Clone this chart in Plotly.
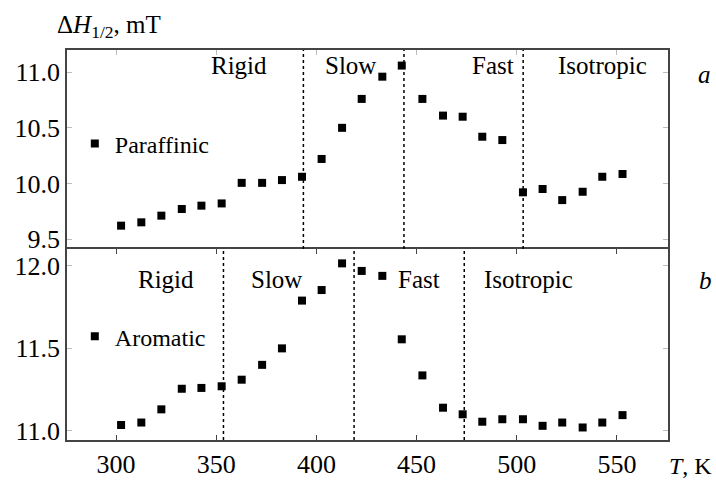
import plotly.graph_objects as go
from plotly.subplots import make_subplots

# ---- data ----
temps = [302.5, 312.6, 322.6, 332.8, 342.6, 352.7, 362.7, 372.9, 382.8, 392.8,
         402.6, 412.8, 422.6, 432.9, 442.6, 452.9, 463.2, 473.0, 482.8, 492.8,
         503.1, 512.9, 522.7, 532.9, 542.7, 552.8]
paraffinic = [9.62, 9.65, 9.71, 9.77, 9.80, 9.82, 10.005, 10.005, 10.03, 10.06,
              10.22, 10.50, 10.76, 10.96, 11.06, 10.76, 10.61, 10.60, 10.42, 10.39,
              9.92, 9.95, 9.85, 9.925, 10.06, 10.085]
aromatic = [11.035, 11.05, 11.13, 11.255, 11.26, 11.27, 11.31, 11.40, 11.50, 11.79,
            11.854, 12.016, 11.97, 11.94, 11.555, 11.336, 11.14, 11.10, 11.055, 11.07,
            11.07, 11.03, 11.05, 11.02, 11.05, 11.095]
top_boundaries = [393.5, 443.7, 503.2]
bottom_boundaries = [353.6, 418.8, 473.8]
regimes = ["Rigid", "Slow", "Fast", "Isotropic"]
top_regime_x = [361.4, 416.8, 488.1, 543.0]
bottom_regime_x = [324.9, 380.0, 451.4, 506.0]
x_ticks = [300, 350, 400, 450, 500, 550]
top_y_ticks = [9.5, 10.0, 10.5, 11.0]
bottom_y_ticks = [11.0, 11.5, 12.0]

FONT = "Liberation Serif"
split = 0.4897

fig = make_subplots(rows=2, cols=1, shared_xaxes=True, vertical_spacing=0)

fig.add_trace(go.Scatter(x=temps, y=paraffinic, mode="markers", name="Paraffinic",
                         marker=dict(symbol="square", size=8, color="black"),
                         legend="legend"), row=1, col=1)
fig.add_trace(go.Scatter(x=temps, y=aromatic, mode="markers", name="Aromatic",
                         marker=dict(symbol="square", size=8, color="black"),
                         legend="legend2"), row=2, col=1)

shapes = []
for b in top_boundaries:
    shapes.append(dict(type="line", xref="x", yref="y domain", x0=b, x1=b, y0=0, y1=1,
                       line=dict(color="black", width=1.5, dash="dot")))
for b in bottom_boundaries:
    shapes.append(dict(type="line", xref="x2", yref="y2 domain", x0=b, x1=b, y0=0, y1=1,
                       line=dict(color="black", width=1.5, dash="dot")))

ann = []
for name, xv in zip(regimes, top_regime_x):
    ann.append(dict(x=xv, y=0.9615, xref="x", yref="paper", text=name, showarrow=False,
                    font=dict(family=FONT, size=25, color="black"), xanchor="center", yanchor="middle"))
for name, xv in zip(regimes, bottom_regime_x):
    ann.append(dict(x=xv, y=0.412, xref="x2", yref="paper", text=name, showarrow=False,
                    font=dict(family=FONT, size=25, color="black"), xanchor="center", yanchor="middle"))
ann.append(dict(x=1.060, y=0.936, xref="paper", yref="paper", text="<i>a</i>", showarrow=False,
                font=dict(family=FONT, size=25, color="black"), xanchor="center", yanchor="middle"))
ann.append(dict(x=1.062, y=0.41, xref="paper", yref="paper", text="<i>b</i>", showarrow=False,
                font=dict(family=FONT, size=25, color="black"), xanchor="center", yanchor="middle"))
ann.append(dict(x=-0.02, y=1.059, xref="paper", yref="paper", text="Δ<i>H</i><sub>1/2</sub>, mT",
                showarrow=False, font=dict(family=FONT, size=25, color="black"),
                xanchor="left", yanchor="middle"))
ann.append(dict(x=0.998, y=-0.066, xref="paper", yref="paper", text="<i>T</i>, K",
                showarrow=False, font=dict(family=FONT, size=24, color="black"),
                xanchor="left", yanchor="middle"))

def axis_style(mirror):
    return dict(showline=True, linecolor="#444", linewidth=1.5, mirror=mirror,
                ticks="inside", ticklen=5, showgrid=False, zeroline=False, automargin=False,
                tickfont=dict(family=FONT, size=26, color="black"))

fig.update_layout(
    width=716, height=480,
    margin=dict(l=67, r=48, t=50, b=40),
    plot_bgcolor="white", paper_bgcolor="white",
    shapes=shapes, annotations=ann,
    showlegend=True,
    legend=dict(x=0.013, y=0.759, xanchor="left", yanchor="middle", itemwidth=30,
                bgcolor="rgba(0,0,0,0)", font=dict(family=FONT, size=24, color="black")),
    legend2=dict(x=0.013, y=0.265, xanchor="left", yanchor="middle", itemwidth=30,
                 bgcolor="rgba(0,0,0,0)", font=dict(family=FONT, size=24, color="black")),
    xaxis=dict(range=[275.5, 575.5], tickvals=x_ticks, showticklabels=False, side="top",
               tickcolor="#bbb", **axis_style(False)),
    xaxis2=dict(range=[275.5, 575.5], tickvals=x_ticks, tickcolor="#444", **axis_style("ticks")),
    yaxis=dict(domain=[split, 1], range=[9.41, 11.2], tickvals=top_y_ticks, tickformat=".1f",
               tickcolor="#bbb", **axis_style("ticks")),
    yaxis2=dict(domain=[0, split], range=[10.944, 12.103], tickvals=bottom_y_ticks, tickformat=".1f",
                tickcolor="#bbb", **axis_style("ticks")),
)

fig.write_html("out.html")
